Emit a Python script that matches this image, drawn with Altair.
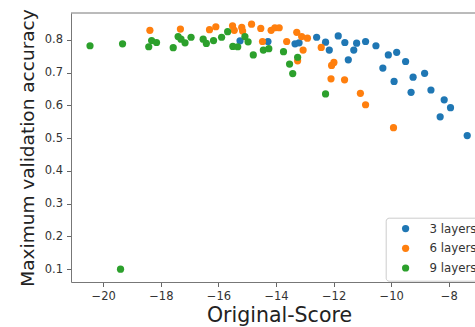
import altair as alt
import pandas as pd

# ---- data ----
series_names = ["3 layers", "6 layers", "9 layers"]
series_colors = ["#1f77b4", "#ff7f0e", "#2ca02c"]

blue_x = [-15.25, -14.28, -13.34, -13.20, -12.59, -12.28, -12.15, -11.84, -11.61,
          -11.20, -11.30, -10.89, -11.49, -10.53, -10.10, -9.81, -9.50, -10.29,
          -9.90, -9.24, -8.84, -9.31, -8.62, -8.16, -7.94, -8.30, -7.36]
blue_y = [0.797, 0.795, 0.788, 0.791, 0.808, 0.793, 0.769, 0.812, 0.792,
          0.790, 0.769, 0.795, 0.739, 0.782, 0.754, 0.762, 0.734, 0.714,
          0.673, 0.686, 0.698, 0.640, 0.647, 0.617, 0.593, 0.565, 0.508]

orange_x = [-18.38, -17.32, -16.31, -16.09, -15.51, -15.45, -15.19, -15.16, -14.85,
            -14.53, -14.47, -14.17, -14.04, -13.89, -13.63, -13.28, -13.11, -12.91,
            -13.06, -13.25, -12.43, -11.99, -12.07, -12.09, -11.62, -11.07, -10.89, -9.92]
orange_y = [0.829, 0.833, 0.831, 0.840, 0.843, 0.829, 0.838, 0.827, 0.848,
            0.835, 0.795, 0.829, 0.837, 0.837, 0.795, 0.823, 0.810, 0.805,
            0.769, 0.736, 0.777, 0.731, 0.722, 0.681, 0.678, 0.637, 0.602, 0.532]

green_x = [-20.46, -19.33, -18.42, -18.32, -18.15, -17.57, -17.40, -17.30, -17.16,
           -16.95, -16.53, -16.42, -16.17, -15.89, -15.68, -15.50, -15.33, -15.08,
           -14.97, -14.79, -14.44, -14.25, -13.74, -13.53, -13.25, -13.42, -12.28, -19.40]
green_y = [0.782, 0.788, 0.779, 0.798, 0.792, 0.776, 0.810, 0.802, 0.791,
           0.808, 0.802, 0.789, 0.798, 0.808, 0.825, 0.780, 0.779, 0.810,
           0.794, 0.754, 0.769, 0.773, 0.764, 0.726, 0.747, 0.697, 0.635, 0.100]

x_ticks = [-20, -18, -16, -14, -12, -10, -8]
y_ticks = [0.1, 0.2, 0.3, 0.4, 0.5, 0.6, 0.7, 0.8]

rows = []
k = 0
for name, xs, ys in zip(series_names, [blue_x, orange_x, green_x], [blue_y, orange_y, green_y]):
    for xv, yv in zip(xs, ys):
        rows.append({"score": xv, "acc": yv, "layers": name, "ord": k})
        k += 1
df = pd.DataFrame(rows)

FONT = "DejaVu Sans"

points = alt.Chart(df).mark_point(filled=True, size=52, opacity=1).encode(
    x=alt.X("score:Q",
            scale=alt.Scale(domain=[-21.12, -7.09], nice=False, zero=False),
            axis=alt.Axis(values=x_ticks, title="Original-Score", grid=False,
                          labelPadding=4, titleX=208, titleY=39.5,
                          titleFontSize=20.5,
                          titleBaseline="alphabetic", titleAlign="center")),
    y=alt.Y("acc:Q",
            scale=alt.Scale(domain=[0.061, 0.882], nice=False, zero=False),
            axis=alt.Axis(values=y_ticks, format=".1f",
                          title="Maximum validation accuracy", grid=False,
                          labelPadding=4, titleX=-37.5, titleY=134.5,
                          titleFontSize=18.5,
                          titleAngle=270, titleBaseline="alphabetic",
                          titleAlign="center")),
    color=alt.Color("layers:N",
                    scale=alt.Scale(domain=series_names, range=series_colors),
                    legend=alt.Legend(title=None, orient="none",
                                      legendX=314.7, legendY=204.7,
                                      padding=5, symbolOffset=9, labelOffset=18,
                                      rowPadding=6.7, symbolSize=52,
                                      symbolType="circle",
                                      strokeColor="#cccccc", fillColor="white",
                                      cornerRadius=3, labelFontSize=11.8,
                                      labelFont=FONT, labelColor="#333333")),
    order=alt.Order("ord:Q"),
)

top_line = alt.Chart(pd.DataFrame({"a": [0]})).mark_rule(
    color="#777777", strokeWidth=1).encode(y=alt.value(0))

chart = alt.layer(points, top_line).properties(
    width=404,
    height=269,
    autosize=alt.AutoSizeParams(type="none"),
    padding={"left": 71, "top": 13, "right": 0, "bottom": 45},
).configure_view(stroke=None).configure_axis(
    labelFont=FONT, titleFont=FONT, labelFontSize=11.5,
    labelColor="#333333", titleColor="#222222", titleFontWeight="normal",
    tickColor="#666666", domainColor="#777777", tickSize=4.5, domainWidth=1,
)

chart.save("out.html", embed_options={"renderer": "svg", "actions": False})
